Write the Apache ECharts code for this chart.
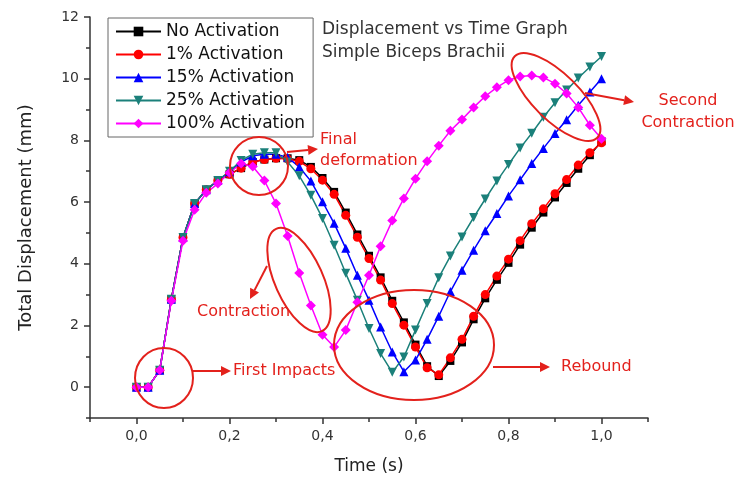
<!DOCTYPE html>
<html>
<head>
<meta charset="utf-8">
<script src="https://cdn.jsdelivr.net/npm/echarts@6/dist/echarts.min.js"></script>
<style>
  html, body { margin: 0; padding: 0; background: #fff; }
  #chart { width: 735px; height: 480px; }
</style>
</head>
<body>
<div id="chart"></div>
<script>
// Time samples (s)
const times = [0, 0.025, 0.05, 0.075, 0.1, 0.125, 0.15, 0.175, 0.2, 0.225,
  0.25, 0.275, 0.3, 0.325, 0.35, 0.375, 0.4, 0.425, 0.45, 0.475,
  0.5, 0.525, 0.55, 0.575, 0.6, 0.625, 0.65, 0.675, 0.7, 0.725,
  0.75, 0.775, 0.8, 0.825, 0.85, 0.875, 0.9, 0.925, 0.95, 0.975, 1.0];

// Total displacement (mm) per activation level
const noActivation = [0, 0, 0.55, 2.85, 4.85, 5.95, 6.4, 6.7, 6.9, 7.1,
  7.3, 7.38, 7.42, 7.42, 7.36, 7.14, 6.78, 6.33, 5.66, 4.95,
  4.26, 3.56, 2.8, 2.1, 1.38, 0.68, 0.36, 0.85, 1.45, 2.2,
  2.88, 3.48, 4.03, 4.62, 5.17, 5.66, 6.15, 6.62, 7.08, 7.52, 7.97];
const act1 = [0, 0, 0.55, 2.85, 4.85, 5.95, 6.4, 6.7, 6.9, 7.1,
  7.3, 7.38, 7.42, 7.4, 7.32, 7.08, 6.71, 6.25, 5.57, 4.86,
  4.17, 3.47, 2.71, 2.01, 1.3, 0.63, 0.4, 0.95, 1.55, 2.3,
  3.0, 3.6, 4.15, 4.75, 5.3, 5.78, 6.27, 6.73, 7.2, 7.6, 7.92];
const act15 = [0, 0, 0.55, 2.85, 4.85, 5.95, 6.4, 6.7, 6.98, 7.3,
  7.5, 7.55, 7.55, 7.45, 7.14, 6.68, 6.01, 5.31, 4.5, 3.63,
  2.82, 1.95, 1.14, 0.5, 0.88, 1.55, 2.3, 3.1, 3.79, 4.44,
  5.07, 5.63, 6.2, 6.72, 7.25, 7.74, 8.22, 8.67, 9.14, 9.57, 10.0];
const act25 = [0, 0, 0.55, 2.85, 4.85, 5.95, 6.4, 6.7, 7.0, 7.35,
  7.55, 7.6, 7.6, 7.3, 6.85, 6.22, 5.47, 4.6, 3.69, 2.82,
  1.9, 1.09, 0.48, 0.98, 1.85, 2.71, 3.55, 4.25, 4.87, 5.5,
  6.1, 6.68, 7.22, 7.75, 8.23, 8.75, 9.22, 9.63, 10.02, 10.38, 10.72];
const act100 = [0, 0, 0.55, 2.8, 4.75, 5.75, 6.3, 6.6, 6.95, 7.25,
  7.15, 6.7, 5.95, 4.9, 3.7, 2.65, 1.7, 1.3, 1.85, 2.75,
  3.63, 4.57, 5.4, 6.12, 6.76, 7.32, 7.83, 8.31, 8.68, 9.07,
  9.43, 9.72, 9.95, 10.07, 10.1, 10.04, 9.84, 9.52, 9.07, 8.49, 8.05];

const seriesNames = ['No Activation', '1% Activation', '15% Activation', '25% Activation', '100% Activation'];

// Axis ticks
const xMajorTicks = [0, 0.2, 0.4, 0.6, 0.8, 1.0];
const xMinorTicks = [-0.1, 0.1, 0.3, 0.5, 0.7, 0.9, 1.1];
const yMajorTicks = [0, 2, 4, 6, 8, 10, 12];
const yMinorTicks = [-1, 1, 3, 5, 7, 9, 11];

const FONT = 'DejaVu Sans';
const AXIS_COLOR = '#333';
const NOTE_RED = '#e3211c';

const pairs = vals => times.map((t, i) => [t, vals[i]]);

const styles = [
  { data: noActivation, color: '#000000', symbol: 'rect', size: 8, rotate: 0 },
  { data: act1, color: '#ff0000', symbol: 'circle', size: 9, rotate: 0 },
  { data: act15, color: '#0000ff', symbol: 'triangle', size: 9, rotate: 0 },
  { data: act25, color: '#1b807a', symbol: 'triangle', size: 9, rotate: 180 },
  { data: act100, color: '#ff00ff', symbol: 'diamond', size: 10, rotate: 0 }
];

const series = styles.map((s, i) => ({
  name: seriesNames[i],
  type: 'line',
  xAxisIndex: 0,
  yAxisIndex: 0,
  data: pairs(s.data),
  symbol: s.symbol,
  symbolSize: s.size,
  symbolRotate: s.rotate,
  showAllSymbol: true,
  color: s.color,
  lineStyle: { color: s.color, width: 1.5 },
  itemStyle: { color: s.color },
  emphasis: { disabled: true },
  animation: false
}));

// Red callout helpers
function arrow(x1, y1, x2, y2) {
  const ang = Math.atan2(y2 - y1, x2 - x1);
  const L = 10, W = 5;
  const bx = x2 - L * Math.cos(ang), by = y2 - L * Math.sin(ang);
  const px = -Math.sin(ang) * W, py = Math.cos(ang) * W;
  return [
    { type: 'line', shape: { x1, y1, x2: bx, y2: by }, style: { stroke: NOTE_RED, lineWidth: 2 }, z: 100 },
    { type: 'polygon', shape: { points: [[x2, y2], [bx + px, by + py], [bx - px, by - py]] },
      style: { fill: NOTE_RED }, z: 100 }
  ];
}
function ellipse(cx, cy, rx, ry, rot) {
  return { type: 'ellipse', x: cx, y: cy, rotation: rot || 0,
    shape: { cx: 0, cy: 0, rx, ry },
    style: { fill: null, stroke: NOTE_RED, lineWidth: 2 }, z: 100 };
}
function note(x, y, text, align) {
  return { type: 'text', x, y, z: 100,
    style: { text, fill: NOTE_RED, font: '16px "' + FONT + '"',
      textAlign: align || 'left', textVerticalAlign: 'middle', lineHeight: 22 } };
}

const graphics = [
  // chart heading
  { type: 'text', x: 322, y: 30, style: { text: 'Displacement vs Time Graph', fill: '#333',
      font: '17px "' + FONT + '"', textVerticalAlign: 'middle' } },
  { type: 'text', x: 322, y: 53, style: { text: 'Simple Biceps Brachii', fill: '#333',
      font: '17px "' + FONT + '"', textVerticalAlign: 'middle' } },
  // First impacts
  ellipse(164, 378, 29, 30),
  ...arrow(193, 371, 231, 371),
  note(233, 371, 'First Impacts'),
  // Final deformation
  ellipse(259, 166, 29, 29),
  ...arrow(287, 152, 318, 149),
  note(320, 140, 'Final'),
  note(320, 161, 'deformation'),
  // Contraction
  ellipse(299, 280, 56, 24, -1.15),
  ...arrow(267, 266, 250, 299),
  note(197, 312, 'Contraction'),
  // Rebound
  ellipse(414, 345, 80, 55),
  ...arrow(493, 367, 550, 367),
  note(561, 367, 'Rebound'),
  // Second contraction
  ellipse(556, 97, 58, 23, -0.78),
  ...arrow(585, 93, 634, 102),
  note(688, 101, 'Second', 'center'),
  note(688, 123, 'Contraction', 'center')
];

const labelFmt = v => v.toFixed(1).replace('.', ',');

const option = {
  backgroundColor: '#ffffff',
  animation: false,
  textStyle: { fontFamily: FONT },
  grid: { left: 90, right: 87, top: 17, bottom: 62, containLabel: false },
  legend: {
    orient: 'vertical',
    left: 108, top: 18,
    data: seriesNames,
    itemWidth: 45, itemHeight: 12, itemGap: 6,
    padding: [5, 8, 5, 7],
    borderColor: '#666', borderWidth: 1,
    backgroundColor: '#fff',
    textStyle: { fontFamily: FONT, fontSize: 17, color: '#111', lineHeight: 17 },
    selectedMode: false
  },
  xAxis: [
    {
      type: 'value', min: -0.1, max: 1.1, position: 'bottom',
      name: 'Time (s)', nameLocation: 'middle', nameGap: 40,
      nameTextStyle: { fontFamily: FONT, fontSize: 17, color: '#222' },
      axisLine: { show: true, onZero: false, lineStyle: { color: AXIS_COLOR, width: 1.5 } },
      axisTick: { show: true, inside: false, length: 6, customValues: xMajorTicks, lineStyle: { color: AXIS_COLOR, width: 1.5 } },
      axisLabel: { show: true, customValues: xMajorTicks, formatter: labelFmt, margin: 11,
        fontFamily: FONT, fontSize: 14, color: '#333' },
      splitLine: { show: false }
    },
    {
      type: 'value', min: -0.1, max: 1.1, position: 'bottom',
      axisLine: { show: false, onZero: false },
      axisTick: { show: true, inside: false, length: 4, customValues: xMinorTicks, lineStyle: { color: AXIS_COLOR, width: 1.5 } },
      axisLabel: { show: false },
      splitLine: { show: false }
    }
  ],
  yAxis: [
    {
      type: 'value', min: -1, max: 12, position: 'left',
      name: 'Total Displacement (mm)', nameLocation: 'middle', nameGap: 55,
      nameTextStyle: { fontFamily: FONT, fontSize: 18, color: '#222' },
      axisLine: { show: true, onZero: false, lineStyle: { color: AXIS_COLOR, width: 1.5 } },
      axisTick: { show: true, inside: false, length: 6, customValues: yMajorTicks, lineStyle: { color: AXIS_COLOR, width: 1.5 } },
      axisLabel: { show: true, customValues: yMajorTicks, margin: 11,
        fontFamily: FONT, fontSize: 14, color: '#333' },
      splitLine: { show: false }
    },
    {
      type: 'value', min: -1, max: 12, position: 'left',
      axisLine: { show: false, onZero: false },
      axisTick: { show: true, inside: false, length: 4, customValues: yMinorTicks, lineStyle: { color: AXIS_COLOR, width: 1.5 } },
      axisLabel: { show: false },
      splitLine: { show: false }
    }
  ],
  series: series,
  graphic: graphics
};

const chart = echarts.init(document.getElementById('chart'), null, { renderer: 'canvas' });
chart.setOption(option);
</script>
</body>
</html>
